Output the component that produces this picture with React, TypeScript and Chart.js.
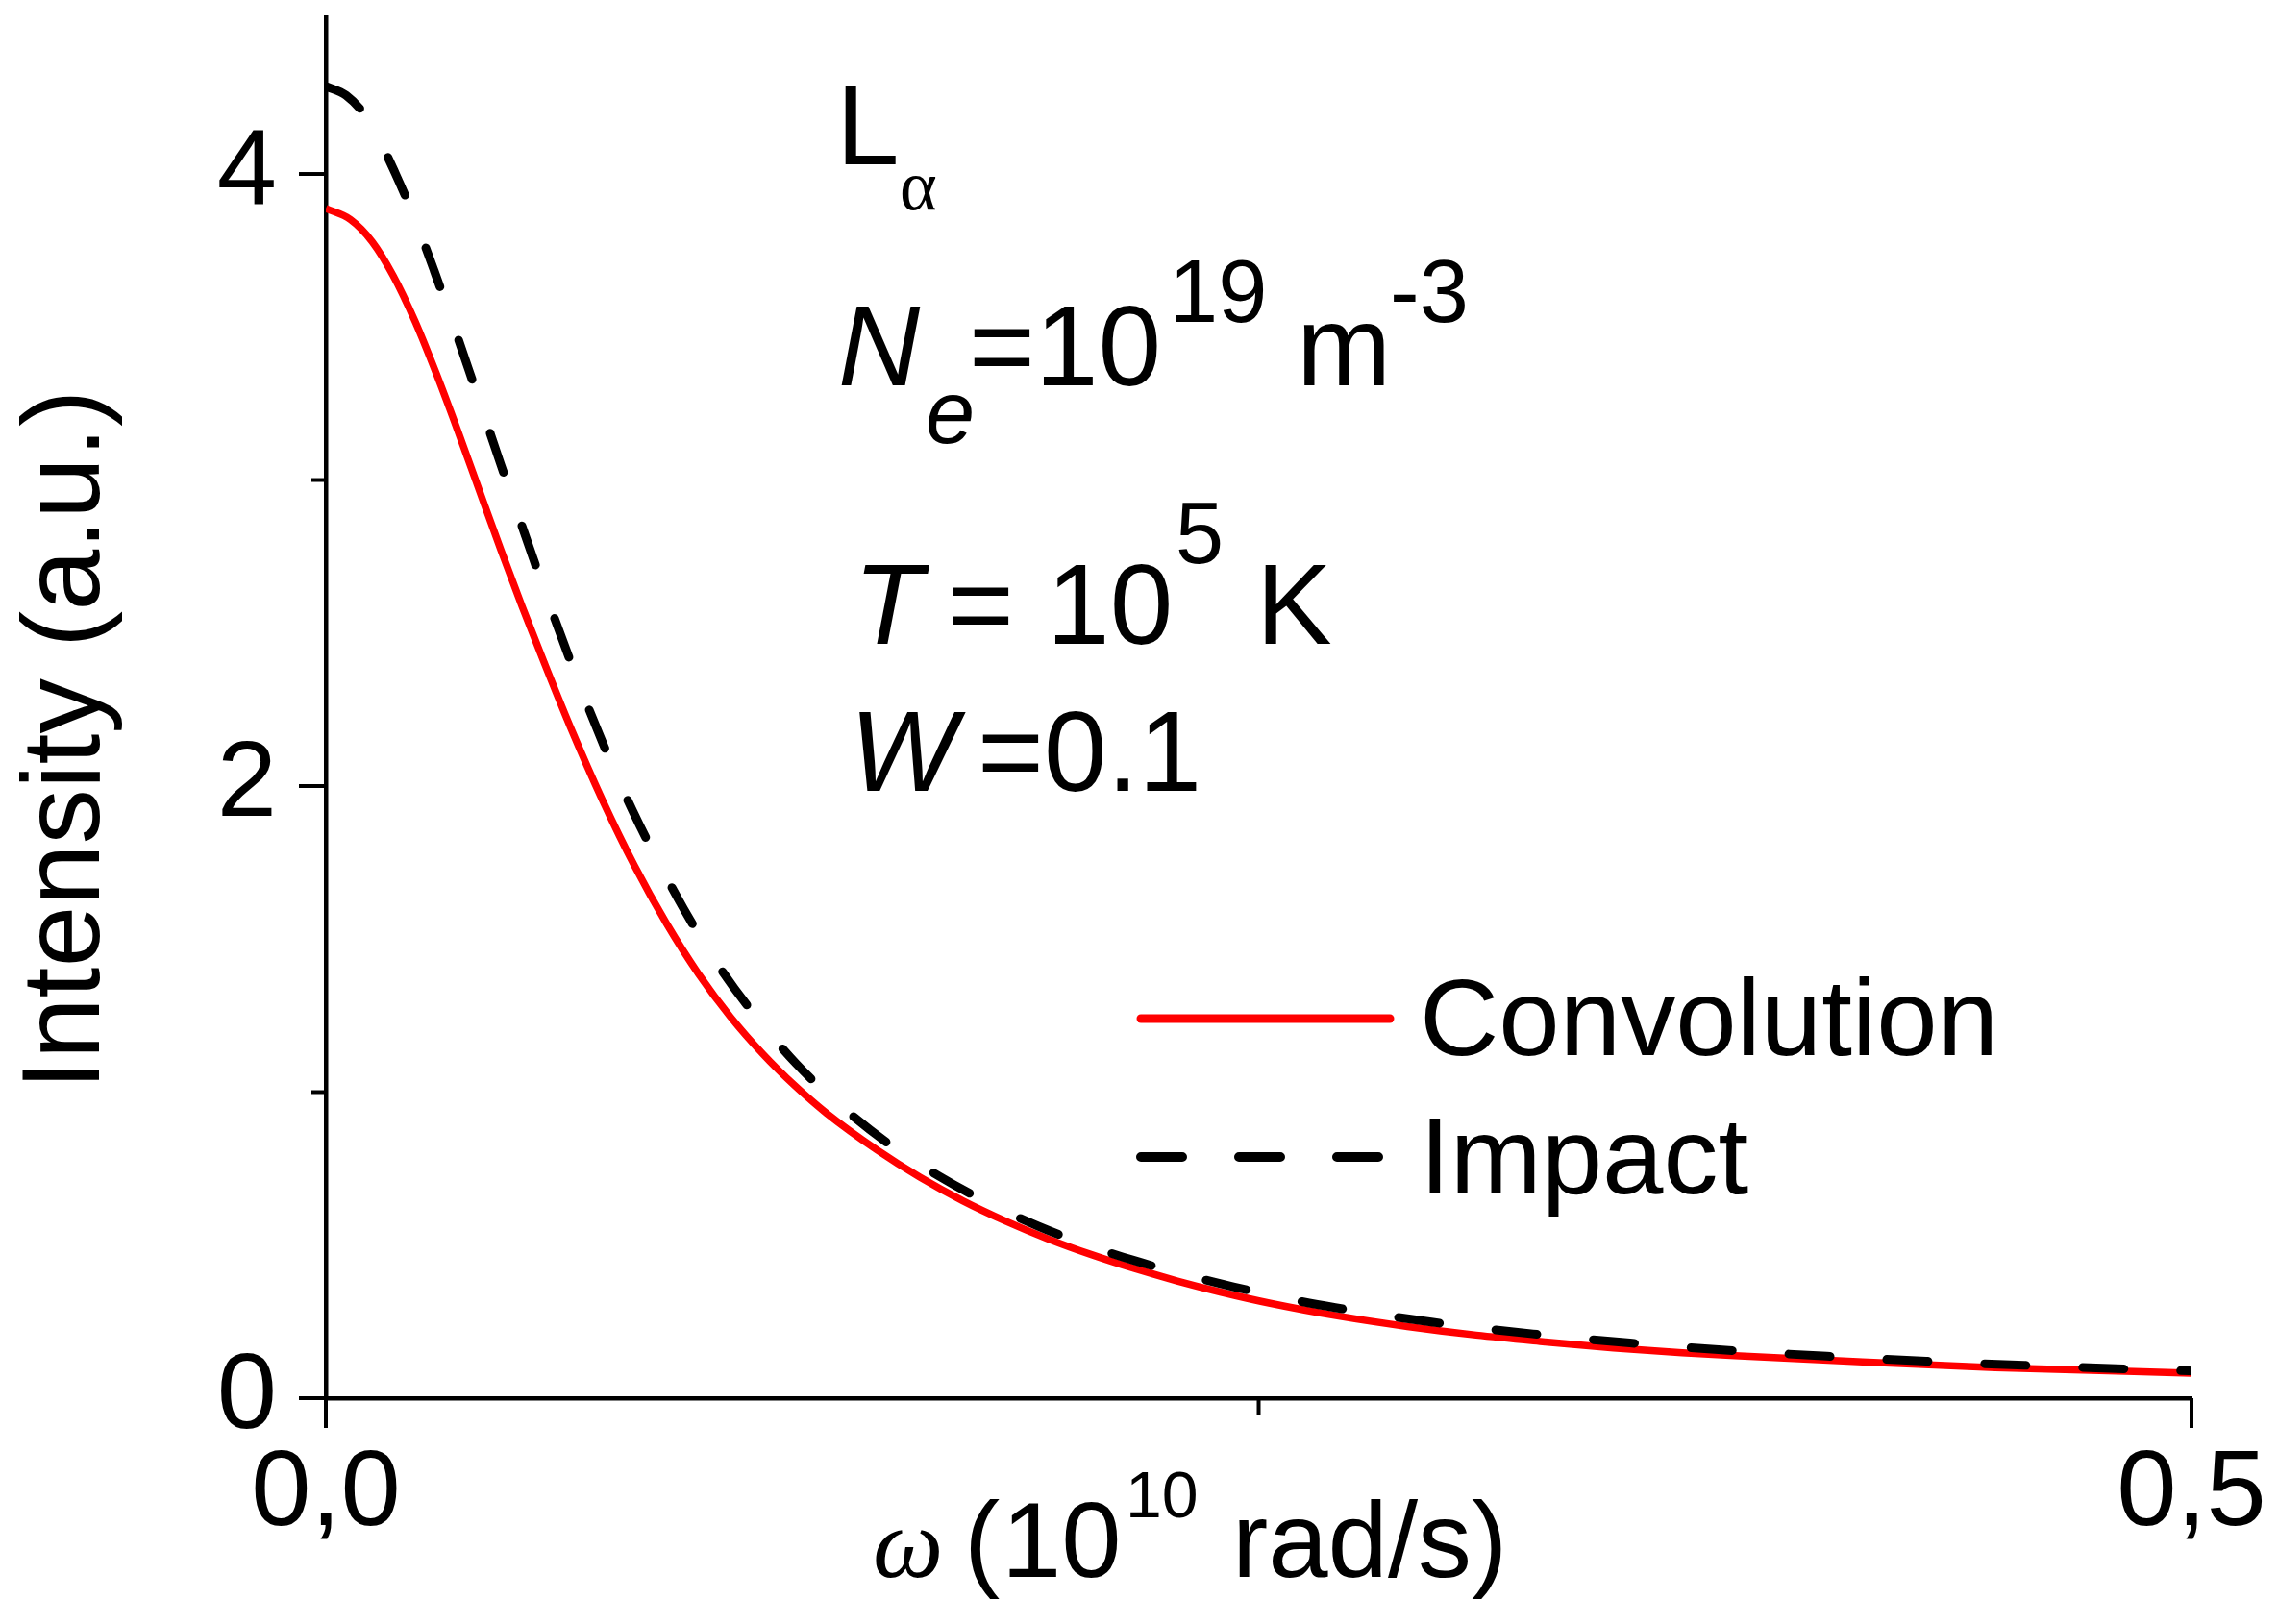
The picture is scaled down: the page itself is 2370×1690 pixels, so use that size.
import { useEffect, useRef } from 'react';
import Chart from 'chart.js/auto';

// Convolution profile (red, solid)
const convolutionX = [0, 0.0066, 0.0124, 0.018, 0.0239, 0.0296, 0.0353, 0.0411, 0.0469, 0.0526, 0.0584, 0.0655, 0.0741, 0.0827, 0.0913, 0.0999, 0.1085, 0.1171, 0.1257, 0.1342, 0.1477, 0.1592, 0.1707, 0.1821, 0.1937, 0.2052, 0.2166, 0.2282, 0.2397, 0.2531, 0.2715, 0.2899, 0.3083, 0.3267, 0.3451, 0.3635, 0.3789, 0.4106, 0.4474, 0.5];
const convolutionY = [3.887, 3.851, 3.779, 3.669, 3.519, 3.348, 3.163, 2.967, 2.772, 2.587, 2.407, 2.194, 1.955, 1.74, 1.551, 1.386, 1.245, 1.125, 1.021, 0.931, 0.811, 0.722, 0.645, 0.579, 0.52, 0.469, 0.424, 0.383, 0.347, 0.31, 0.268, 0.234, 0.206, 0.184, 0.164, 0.148, 0.138, 0.119, 0.1, 0.082];

// Impact profile (black, dashed)
const impactX = [0, 0.0054, 0.0112, 0.0187, 0.0244, 0.029, 0.0342, 0.0382, 0.0428, 0.0469, 0.0515, 0.056, 0.0607, 0.0658, 0.0704, 0.077, 0.0822, 0.0891, 0.096, 0.1046, 0.1132, 0.1259, 0.138, 0.1522, 0.1643, 0.1782, 0.1909, 0.2046, 0.2166, 0.231, 0.2432, 0.2572, 0.2705, 0.2834, 0.2967, 0.31, 0.3235, 0.336, 0.3495, 0.363, 0.376, 0.3894, 0.4023, 0.4156, 0.4289, 0.4423, 0.4552, 0.4686, 0.4818, 0.4947, 0.5];
const impactY = [4.286, 4.257, 4.18, 4.0, 3.835, 3.685, 3.506, 3.364, 3.198, 3.05, 2.887, 2.729, 2.568, 2.4, 2.255, 2.06, 1.92, 1.752, 1.597, 1.425, 1.279, 1.095, 0.955, 0.819, 0.726, 0.633, 0.562, 0.498, 0.45, 0.401, 0.364, 0.326, 0.296, 0.271, 0.248, 0.228, 0.21, 0.195, 0.1805, 0.1675, 0.1565, 0.146, 0.137, 0.1285, 0.1208, 0.1137, 0.1074, 0.1014, 0.0959, 0.0909, 0.089];

const xTicks = [0, 0.25, 0.5];
const xTickLabels = ['0,0', '', '0,5'];
const yTicks = [0, 1, 2, 3, 4];
const yTickLabels = ['0', '', '2', '', '4'];

const seriesNames = ['Convolution', 'Impact'];

const SANS = '"Liberation Sans", Arial, sans-serif';
const SERIF = '"Liberation Serif", "Times New Roman", serif';
const DASH = [43, 59];

function put(ctx: CanvasRenderingContext2D, str: string, x: number, y: number, size: number, family = SANS, italic = false) {
  ctx.font = `${italic ? 'italic ' : ''}${size}px ${family}`;
  ctx.fillText(str, x, y);
}

const framePlugin = {
  id: 'frame',
  afterDraw(chart: any) {
    const { ctx, chartArea } = chart;
    const xs = chart.scales.x;
    const ys = chart.scales.y;
    const L = chartArea.left;
    const B = chartArea.bottom;

    ctx.save();
    // tick marks, major longer than minor, pointing outwards
    ctx.strokeStyle = '#000';
    ctx.lineWidth = 4;
    xTicks.forEach((v, i) => {
      const px = xs.getPixelForValue(v);
      const len = xTickLabels[i] ? 31 : 17;
      ctx.beginPath();
      ctx.moveTo(px, B);
      ctx.lineTo(px, B + len);
      ctx.stroke();
    });
    yTicks.forEach((v, i) => {
      const py = ys.getPixelForValue(v);
      const len = yTickLabels[i] ? 28 : 15;
      ctx.beginPath();
      ctx.moveTo(L, py);
      ctx.lineTo(L - len, py);
      ctx.stroke();
    });

    ctx.fillStyle = '#000';
    ctx.textAlign = 'left';
    ctx.textBaseline = 'alphabetic';

    // y axis title
    ctx.save();
    ctx.translate(103, 770);
    ctx.rotate(-Math.PI / 2);
    ctx.textAlign = 'center';
    put(ctx, 'Intensity (a.u.)', 0, 0, 115);
    ctx.restore();

    // x axis title: ω (10^10 rad/s)
    put(ctx, 'ω', 908, 1641, 104, SERIF, true);
    put(ctx, '(', 1003, 1641, 112);
    put(ctx, '10', 1042, 1641, 112);
    put(ctx, '10', 1171, 1579, 68);
    put(ctx, 'rad/s)', 1282, 1641, 112);

    // annotations
    put(ctx, 'L', 870, 171, 118);
    put(ctx, 'α', 936, 218, 74, SERIF);
    put(ctx, 'N', 872, 401, 118, SANS, true);
    put(ctx, 'e', 963, 461, 92, SANS, true);
    put(ctx, '=10', 1008, 401, 118);
    put(ctx, '19', 1216, 335, 92);
    put(ctx, 'm', 1349, 401, 118);
    put(ctx, '-3', 1446, 335, 92);
    put(ctx, 'T', 888, 670, 118, SANS, true);
    put(ctx, '=', 986, 670, 118);
    put(ctx, '10', 1089, 670, 118);
    put(ctx, '5', 1223, 586, 90);
    put(ctx, 'K', 1307, 670, 118);
    put(ctx, 'W', 884, 823, 118, SANS, true);
    put(ctx, '=', 1017, 823, 118);
    put(ctx, '0.1', 1086, 823, 118);

    // legend
    const ds = chart.data.datasets;
    ctx.lineCap = 'round';
    ctx.strokeStyle = ds[0].borderColor;
    ctx.lineWidth = 9;
    ctx.beginPath();
    ctx.moveTo(1187, 1060);
    ctx.lineTo(1446, 1060);
    ctx.stroke();
    ctx.strokeStyle = ds[1].borderColor;
    ctx.lineWidth = 10;
    ctx.setLineDash(DASH);
    ctx.beginPath();
    ctx.moveTo(1187, 1204);
    ctx.lineTo(1436, 1204);
    ctx.stroke();
    ctx.setLineDash([]);
    put(ctx, seriesNames[0], 1477, 1098, 114);
    put(ctx, seriesNames[1], 1477, 1242, 114);

    ctx.restore();
  },
};

export default function App() {
  const chartRef = useRef<HTMLCanvasElement>(null);
  const chartInstance = useRef<Chart | null>(null);

  useEffect(() => {
    if (!chartRef.current) return;
    if (chartInstance.current) chartInstance.current.destroy();

    const convolution = convolutionX.map((x, i) => ({ x, y: convolutionY[i] }));
    const impact = impactX.map((x, i) => ({ x, y: impactY[i] }));

    chartInstance.current = new Chart(chartRef.current, {
      type: 'line',
      data: {
        datasets: [
          {
            label: seriesNames[0],
            data: convolution,
            borderColor: '#ff0000',
            borderWidth: 7.5,
            pointRadius: 0,
            cubicInterpolationMode: 'monotone',
            borderJoinStyle: 'round',
            order: 2,
          },
          {
            label: seriesNames[1],
            data: impact,
            borderColor: '#000000',
            borderWidth: 9,
            borderDash: DASH,
            borderCapStyle: 'round',
            pointRadius: 0,
            cubicInterpolationMode: 'monotone',
            borderJoinStyle: 'round',
            order: 1,
          },
        ],
      },
      options: {
        animation: false,
        responsive: true,
        maintainAspectRatio: false,
        layout: { padding: { left: 0, top: 18.6, right: 90, bottom: 0 } },
        plugins: {
          legend: { display: false },
          tooltip: { enabled: false },
          title: { display: false },
        },
        scales: {
          x: {
            type: 'linear',
            min: 0,
            max: 0.5,
            afterBuildTicks: (s: any) => {
              s.ticks = xTicks.map(v => ({ value: v }));
            },
            afterFit: (s: any) => {
              s.height = 235;
              s.paddingLeft = 0;
              s.paddingRight = 0;
            },
            ticks: {
              callback: (v: any) => xTickLabels[xTicks.indexOf(Number(v))] ?? '',
              font: { family: SANS, size: 112 },
              color: '#000',
              padding: 34,
              maxRotation: 0,
              autoSkip: false,
            },
            grid: { display: false, drawTicks: false },
            border: { display: true, color: '#000', width: 4.5 },
          },
          y: {
            type: 'linear',
            min: 0,
            max: 4.51,
            afterBuildTicks: (s: any) => {
              s.ticks = yTicks.map(v => ({ value: v }));
            },
            afterFit: (s: any) => {
              s.width = 339;
              s.paddingTop = 0;
              s.paddingBottom = 0;
            },
            ticks: {
              callback: (v: any) => yTickLabels[yTicks.indexOf(Number(v))] ?? '',
              font: { family: SANS, size: 112 },
              color: '#000',
              padding: 51,
              autoSkip: false,
            },
            grid: { display: false, drawTicks: false },
            border: { display: true, color: '#000', width: 4.5 },
          },
        },
      },
      plugins: [framePlugin],
    });

    return () => {
      if (chartInstance.current) {
        chartInstance.current.destroy();
        chartInstance.current = null;
      }
    };
  }, []);

  return (
    <div style={{ position: 'fixed', left: 0, top: 0, width: 2370, height: 1690, background: '#fff' }}>
      <canvas ref={chartRef} style={{ width: '100%', height: '100%' }}></canvas>
    </div>
  );
}
